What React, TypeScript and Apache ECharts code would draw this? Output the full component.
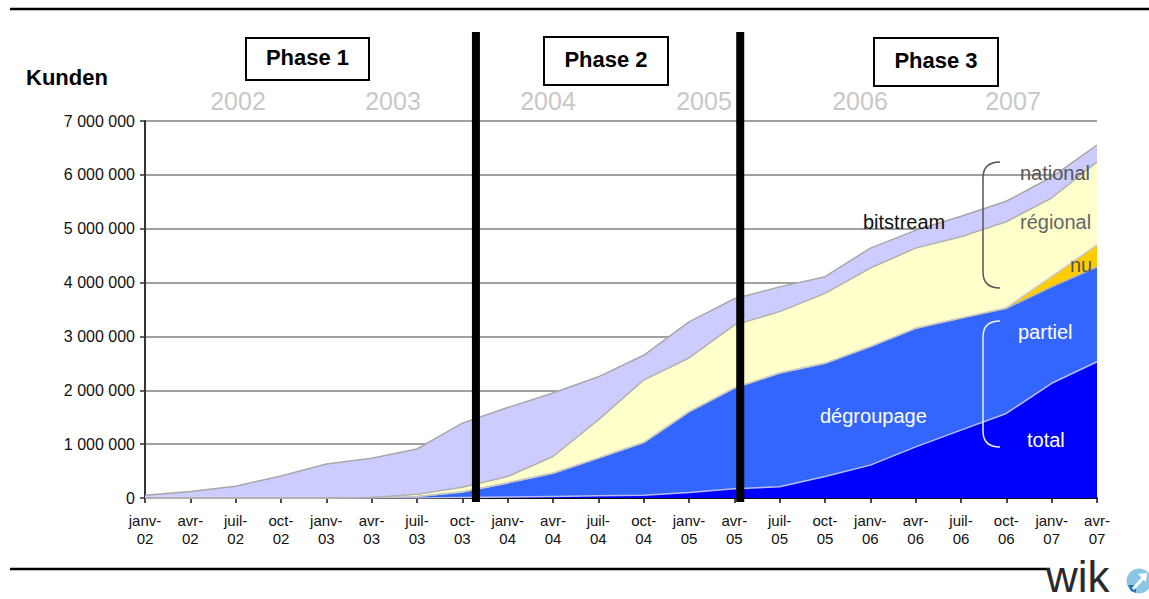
import React, { useEffect, useRef } from 'react';
import * as echarts from 'echarts';

const quarterLabels = [
  'janv-\n02', 'avr-\n02', 'juil-\n02', 'oct-\n02',
  'janv-\n03', 'avr-\n03', 'juil-\n03', 'oct-\n03',
  'janv-\n04', 'avr-\n04', 'juil-\n04', 'oct-\n04',
  'janv-\n05', 'avr-\n05', 'juil-\n05', 'oct-\n05',
  'janv-\n06', 'avr-\n06', 'juil-\n06', 'oct-\n06',
  'janv-\n07', 'avr-\n07',
];

const dgTotal = [0, 0, 0, 0, 0, 0, 0, 10000, 20000, 30000, 40000, 50000, 100000, 170000, 210000, 400000, 610000, 950000, 1260000, 1570000, 2130000, 2530000];
const dgPartiel = [0, 0, 0, 0, 0, 10000, 30000, 100000, 260000, 430000, 700000, 980000, 1500000, 1870000, 2110000, 2100000, 2200000, 2200000, 2080000, 1950000, 1790000, 1760000];
const bsNu = [0, 0, 0, 0, 0, 0, 0, 0, 0, 0, 0, 0, 0, 0, 0, 0, 0, 0, 0, 10000, 190000, 410000];
const bsRegional = [0, 0, 0, 0, 0, 0, 40000, 90000, 120000, 310000, 710000, 1160000, 1000000, 1170000, 1140000, 1300000, 1460000, 1490000, 1510000, 1600000, 1460000, 1540000];
const bsNational = [50000, 120000, 220000, 410000, 630000, 730000, 840000, 1190000, 1280000, 1180000, 800000, 460000, 670000, 490000, 460000, 310000, 370000, 330000, 380000, 380000, 390000, 310000];

const yearLabels = ['2002', '2003', '2004', '2005', '2006', '2007'];
const phaseNames = ['Phase 1', 'Phase 2', 'Phase 3'];
// phase boundaries, in quarters from janv-02
const phaseBoundaries = [7.3, 13.13];

const FONT = '"Liberation Sans", Arial, Helvetica, sans-serif';

const fmtThousands = (v: number) => String(v).replace(/\B(?=(\d{3})+(?!\d))/g, ' ');

export default function App() {
  const ref = useRef<HTMLDivElement>(null);
  useEffect(() => {
    if (!ref.current) return;
    const chart = echarts.init(ref.current, null, { renderer: 'svg' });
    echarts.graphic.registerShape(
      'brace',
      echarts.graphic.extendPath('M17 0 C6 0 0 5 0 16 L0 110 C0 121 6 126 17 126', {})
    );

    const mk = (name: string, arr: number[], color: string, line: string) => ({
      name,
      type: 'line',
      stack: 'all',
      showSymbol: false,
      symbol: 'none',
      data: arr,
      lineStyle: { color: line, width: 1.5 },
      areaStyle: { color, opacity: 1 },
      itemStyle: { color },
      z: 2,
    });

    chart.setOption({
      animation: false,
      grid: { left: 145, right: 52, top: 121, bottom: 101 },
      xAxis: {
        type: 'category',
        boundaryGap: false,
        data: quarterLabels,
        axisLine: { show: true, lineStyle: { color: '#111', width: 2 } },
        axisTick: { show: true, length: 5, interval: 0, lineStyle: { color: '#111', width: 1.5 } },
        splitLine: { show: false },
        axisLabel: {
          interval: 0,
          color: '#111',
          fontFamily: FONT,
          fontSize: 15,
          lineHeight: 18,
          margin: 13,
        },
      },
      yAxis: {
        type: 'value',
        min: 0,
        max: 7000000,
        interval: 1000000,
        axisLine: { show: true, lineStyle: { color: '#333', width: 2 } },
        axisTick: { show: true, length: 5, lineStyle: { color: '#333', width: 1.5 } },
        splitLine: { show: true, lineStyle: { color: '#a0a0a0', width: 2 } },
        axisLabel: {
          formatter: (v: number) => fmtThousands(v),
          color: '#111',
          fontFamily: FONT,
          fontSize: 16,
          margin: 10,
        },
      },
      series: [
        mk('total', dgTotal, '#0000ff', '#b8bce8'),
        mk('partiel', dgPartiel, '#3366ff', '#b0b0b0'),
        mk('nu', bsNu, '#ffcc00', '#c8c8c8'),
        mk('régional', bsRegional, '#ffffcc', '#b0b0b0'),
        mk('national', bsNational, '#ccccff', '#a8a8a8'),
      ],
    });

    const px = (i: number) => chart.convertToPixel({ xAxisIndex: 0 }, i) as number;
    const phaseLines = phaseBoundaries.map((b) => {
      const f = Math.floor(b);
      const x = px(f) + (b - f) * (px(f + 1) - px(f));
      return {
        type: 'line',
        shape: { x1: x, y1: 32, x2: x, y2: 502 },
        style: { stroke: '#000', lineWidth: 8 },
        z: 100,
      };
    });

    const yearX = [238, 393, 548, 704, 860, 1013];
    const years = yearLabels.map((t, i) => ({
      type: 'text',
      x: yearX[i],
      y: 101,
      style: { text: t, fill: '#c8c8c8', font: `25px ${FONT}`, align: 'center', verticalAlign: 'middle' },
      z: 50,
    }));

    const boxes = [
      { x: 246, y: 38, w: 123, h: 42 },
      { x: 544, y: 37, w: 124, h: 48 },
      { x: 874, y: 38, w: 124, h: 48 },
    ];
    const phaseGraphics: any[] = [];
    phaseNames.forEach((n, i) => {
      const b = boxes[i];
      phaseGraphics.push({
        type: 'rect',
        shape: { x: b.x, y: b.y, width: b.w, height: b.h },
        style: { fill: '#fff', stroke: '#000', lineWidth: 2 },
        z: 60,
      });
      phaseGraphics.push({
        type: 'text',
        x: b.x + b.w / 2,
        y: b.y + b.h / 2 - 2,
        style: { text: n, fill: '#000', font: `bold 22px ${FONT}`, align: 'center', verticalAlign: 'middle' },
        z: 61,
      });
    });

    const txt = (text: string, x: number, y: number, fill: string, size = 20, align = 'left') => ({
      type: 'text',
      x,
      y,
      style: { text, fill, font: `${size}px ${FONT}`, align, verticalAlign: 'middle' },
      z: 70,
    });

    chart.setOption({
      graphic: [
        { type: 'line', shape: { x1: 10, y1: 9, x2: 1149, y2: 9 }, style: { stroke: '#000', lineWidth: 2.5 }, z: 80 },
        { type: 'line', shape: { x1: 10, y1: 569, x2: 1050, y2: 569 }, style: { stroke: '#000', lineWidth: 2.5 }, z: 80 },
        { type: 'text', x: 26, y: 77, style: { text: 'Kunden', fill: '#000', font: `bold 22px ${FONT}`, align: 'left', verticalAlign: 'middle' }, z: 80 },
        ...years,
        ...phaseGraphics,
        ...phaseLines,
        txt('national', 1020, 173, '#555'),
        txt('régional', 1020, 222, '#666'),
        txt('nu', 1070, 265, '#555'),
        txt('bitstream', 863, 222, '#111'),
        txt('partiel', 1018, 332, '#fff'),
        txt('dégroupage', 820, 416, '#fff'),
        txt('total', 1027, 440, '#fff'),
        { type: 'brace', x: 983, y: 162, style: { stroke: '#555', fill: 'none', lineWidth: 1.5 }, z: 70 },
        { type: 'brace', x: 983, y: 321, style: { stroke: '#eeeeff', fill: 'none', lineWidth: 1.5 }, z: 70 },
        { type: 'text', x: 1046, y: 598, style: { text: 'wik', fill: '#2a2a2a', font: `44px ${FONT}`, align: 'left', verticalAlign: 'bottom' }, z: 80 },
        { type: 'circle', shape: { cx: 1139, cy: 581, r: 12.5 }, style: { fill: '#8cc6e6' }, z: 80 },
        { type: 'polygon', shape: { points: [[1128, 585], [1136, 585], [1136, 593], [1131, 591]] }, style: { fill: '#1f78b4' }, z: 81 },
        { type: 'line', shape: { x1: 1133, y1: 589, x2: 1146, y2: 575 }, style: { stroke: '#fff', lineWidth: 3 }, z: 82 },
        { type: 'polygon', shape: { points: [[1138, 574], [1147, 573], [1146, 582]] }, style: { fill: '#fff' }, z: 82 },
      ],
    });

    return () => chart.dispose();
  }, []);
  return <div ref={ref} style={{ position: 'fixed', left: 0, top: 0, width: 1149, height: 599, background: '#fff' }} />;
}
